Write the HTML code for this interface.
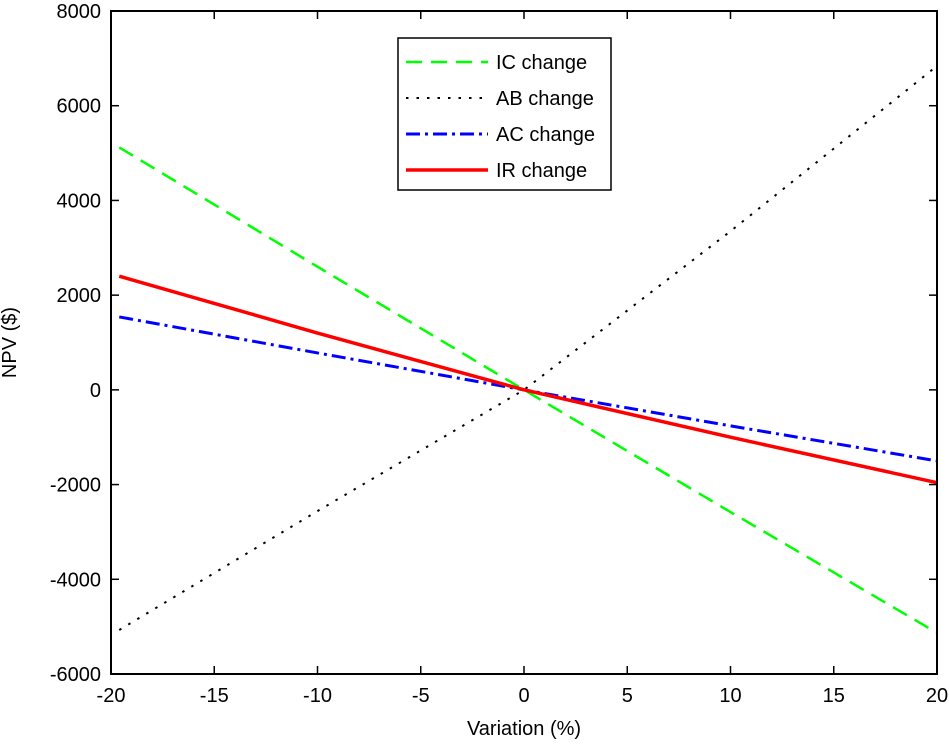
<!DOCTYPE html>
<html><head><meta charset="utf-8"><style>
body{margin:0;background:#fff;}
svg text{font-family:"Liberation Sans",sans-serif;font-size:20px;fill:#000;}
</style></head><body>
<svg id="chart" width="949" height="744" xmlns="http://www.w3.org/2000/svg">
<rect x="0" y="0" width="949" height="744" fill="#fff"/>
<g id="marks"></g>
<g id="axes"></g>
</svg>
<script>
const xVals = [-19.6, -10, 0, 10, 20];
const icVals = [5120, 2600, 0, -2580, -5130];
const abVals = [-5070, -2560, 0, 3350, 6840];
const acVals = [1540, 780, 0, -760, -1500];
const irVals = [2400, 1200, 0, -1000, -1960];
const xTicks = [-20, -15, -10, -5, 0, 5, 10, 15, 20];
const yTicks = [-6000, -4000, -2000, 0, 2000, 4000, 6000, 8000];

const L = 111, R = 937, T = 11, B = 674;
const sx = v => L + (v + 20) / 40 * (R - L);
const sy = v => B - (v + 6000) / 14000 * (B - T);
const NS = 'http://www.w3.org/2000/svg';
const marks = document.getElementById('marks');
const axes = document.getElementById('axes');
function mk(tag, attrs, parent) {
  const e = document.createElementNS(NS, tag);
  for (const k in attrs) e.setAttribute(k, attrs[k]);
  parent.appendChild(e);
  return e;
}
const series = [
  {name: 'ic', vals: icVals, color: '#00ff00', dash: '16,9', w: 2.5},
  {name: 'ab', vals: abVals, color: '#000', dash: '2.5,8', w: 2},
  {name: 'ac', vals: acVals, color: '#0000ff', dash: '14,5,3,5', w: 3},
  {name: 'ir', vals: irVals, color: '#ff0000', dash: 'none', w: 3.5}
];
series.forEach(s => {
  const d = s.vals.map((v, i) => (i ? 'L' : 'M') + sx(xVals[i]) + ',' + sy(v)).join(' ');
  const p = mk('path', {d: d, fill: 'none', stroke: s.color, 'stroke-width': s.w, 'stroke-dasharray': s.dash}, marks);
  
  
});
const box = mk('rect', {x: L, y: T, width: R - L, height: B - T, fill: 'none', stroke: '#000', 'stroke-width': 2}, axes);


xTicks.forEach(t => {
  const x = sx(t);
  mk('line', {x1: x, x2: x, y1: B, y2: B - 8, stroke: '#000', 'stroke-width': 1.5}, axes);
  mk('line', {x1: x, x2: x, y1: T, y2: T + 8, stroke: '#000', 'stroke-width': 1.5}, axes);
  const tx = mk('text', {x: x, y: B + 28, 'text-anchor': 'middle'}, axes);
  tx.textContent = t;
  
  
});
yTicks.forEach(t => {
  const y = sy(t);
  mk('line', {x1: L, x2: L + 8, y1: y, y2: y, stroke: '#000', 'stroke-width': 1.5}, axes);
  mk('line', {x1: R, x2: R - 8, y1: y, y2: y, stroke: '#000', 'stroke-width': 1.5}, axes);
  const tx = mk('text', {x: L - 10, y: y + 7, 'text-anchor': 'end'}, axes);
  tx.textContent = t;
  
  
});
const xt = mk('text', {x: (L + R) / 2, y: 735, 'text-anchor': 'middle'}, axes);
xt.textContent = 'Variation (%)';


const yt = mk('text', {x: 0, y: 0, 'text-anchor': 'middle', transform: 'translate(16,' + (T + B) / 2 + ') rotate(-90)'}, axes);
yt.textContent = 'NPV ($)';


const lg = mk('g', {}, axes);


mk('rect', {x: 398, y: 38, width: 213, height: 152, fill: '#fff', stroke: '#000', 'stroke-width': 1.5}, lg);
const labels = ['IC change', 'AB change', 'AC change', 'IR change'];
series.forEach((s, i) => {
  const y = 62 + i * 36;
  mk('line', {x1: 406, x2: 488, y1: y, y2: y, stroke: s.color, 'stroke-width': s.w, 'stroke-dasharray': s.dash}, lg);
  const tx = mk('text', {x: 496, y: y + 7}, lg);
  tx.textContent = labels[i];
  
  
});
</script>
</body></html>
